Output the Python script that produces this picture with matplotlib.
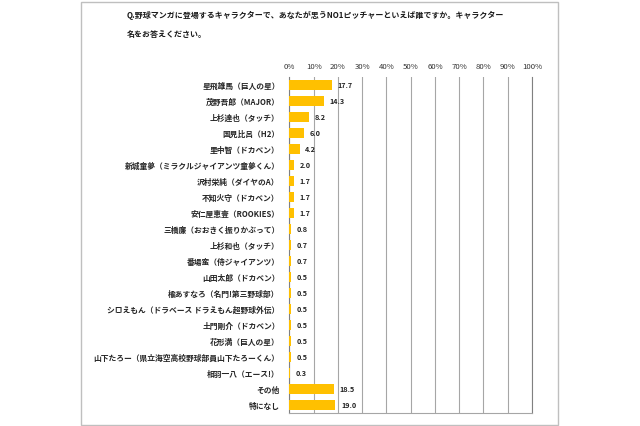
import matplotlib
matplotlib.use("Agg")
import matplotlib.pyplot as plt
from matplotlib.patches import Rectangle

plt.rcParams['font.family'] = ['Noto Sans CJK JP', 'DejaVu Sans']

title_lines = ["Q.野球マンガに登場するキャラクターで、あなたが思うNO1ピッチャーといえば誰ですか。キャラクター",
               "名をお答えください。"]
categories = [
    "星飛雄馬（巨人の星）",
    "茂野吾郎（MAJOR）",
    "上杉達也（タッチ）",
    "国見比呂（H2）",
    "里中智（ドカベン）",
    "新城童夢（ミラクルジャイアンツ童夢くん）",
    "沢村栄純（ダイヤのA）",
    "不知火守（ドカベン）",
    "安仁屋恵壹（ROOKIES）",
    "三橋廉（おおきく振りかぶって）",
    "上杉和也（タッチ）",
    "番場蛮（侍ジャイアンツ）",
    "山田太郎（ドカベン）",
    "楡あすなろ（名門!第三野球部）",
    "シロえもん（ドラベース ドラえもん超野球外伝）",
    "土門剛介（ドカベン）",
    "花形満（巨人の星）",
    "山下たろー（県立海空高校野球部員山下たろーくん）",
    "相羽一八（エース!）",
    "その他",
    "特になし",
]
values = [17.7, 14.3, 8.2, 6.0, 4.2, 2.0, 1.7, 1.7, 1.7, 0.8, 0.7, 0.7,
          0.5, 0.5, 0.5, 0.5, 0.5, 0.5, 0.3, 18.5, 19.0]
xticks = [0, 10, 20, 30, 40, 50, 60, 70, 80, 90, 100]
xticklabels = [f"{t}%" for t in xticks]

fig = plt.figure(figsize=(6.4, 4.26), dpi=100)
fig.patch.set_facecolor("white")

# outer frame
fig.add_artist(Rectangle((81/640, 1.5/426), (558-81)/640, (424-1.5)/426,
                         transform=fig.transFigure, fill=False,
                         edgecolor="#BFBFBF", linewidth=1.0))

fig.text(127/640, 1-15/426, title_lines[0], fontsize=5.75, fontweight='bold',
         va='center', ha='left', color='#1a1a1a')
fig.text(127/640, 1-34/426, title_lines[1], fontsize=5.75, fontweight='bold',
         va='center', ha='left', color='#1a1a1a')

ax = fig.add_axes([289.4/640, 1-413/426, (532-289.4)/640, (413-77)/426])
y = list(range(len(categories)))
ax.barh(y, values, height=0.67, color="#FFC000", zorder=3)
ax.set_ylim(len(categories)-0.5, -0.5)
ax.set_xlim(0, 100)
ax.set_yticks(y)
ax.set_yticklabels(categories, fontsize=5.6, fontweight='bold', color='#262626')
ax.set_xticks(xticks)
ax.set_xticklabels(xticklabels, fontsize=5.6, color='#333333')
ax.xaxis.tick_top()
ax.tick_params(axis='both', length=0, pad=4)
ax.tick_params(axis='y', pad=7)
ax.grid(axis='x', color='#A6A6A6', linewidth=0.8, zorder=0)
ax.spines['top'].set_visible(False)
ax.spines['left'].set_color('#808080')
ax.spines['right'].set_color('#808080')
ax.spines['bottom'].set_color('#A6A6A6')
for sp in ax.spines.values():
    sp.set_linewidth(0.8)

for yi, v in zip(y, values):
    ax.annotate(f"{v:.1f}", xy=(v, yi), xytext=(4, -0.5), textcoords='offset points',
                va='center', ha='left', fontsize=5.2, fontweight='bold', color='#222222')

fig.savefig("out.png", dpi=100)
